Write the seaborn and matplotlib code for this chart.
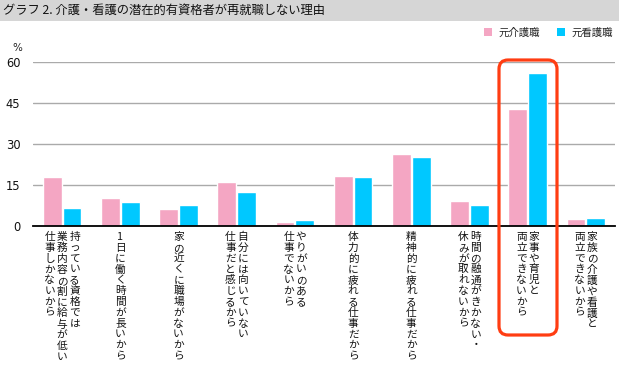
import matplotlib
matplotlib.use("Agg")
import matplotlib.pyplot as plt
import matplotlib.transforms as mtransforms
from matplotlib.patches import FancyBboxPatch, Patch
import seaborn as sns
import pandas as pd

# ---- data ----
categories = [
    ["持っている資格では", "業務内容の割に給与が低い", "仕事しかないから"],
    ["1日に働く時間が長いから"],
    ["家の近くに職場がないから"],
    ["自分には向いていない", "仕事だと感じるから"],
    ["やりがいのある", "仕事でないから"],
    ["体力的に疲れる仕事だから"],
    ["精神的に疲れる仕事だから"],
    ["時間の融通がきかない・", "休みが取れないから"],
    ["家事や育児と", "両立できないから"],
    ["家族の介護や看護と", "両立できないから"],
]
series_names = ["元介護職", "元看護職"]
care_values = [18.0, 10.2, 6.2, 16.1, 1.5, 18.2, 26.3, 9.1, 42.7, 2.6]
nurse_values = [6.6, 8.8, 7.7, 12.4, 2.2, 17.9, 25.2, 7.7, 55.8, 3.0]
yticks = [0, 15, 30, 45, 60]
title = "グラフ 2. 介護・看護の潜在的有資格者が再就職しない理由"
highlight_index = 8

colors = ["#f4a6c3", "#00c8ff"]

sns.set_theme(style="white")
plt.rcParams["font.family"] = ["Noto Sans CJK JP", "DejaVu Sans"]

keys = [str(i) for i in range(len(categories))]
df = pd.DataFrame({
    "cat": keys * 2,
    "series": [series_names[0]] * len(keys) + [series_names[1]] * len(keys),
    "value": care_values + nurse_values,
})

W, H = 619, 375
fig = plt.figure(figsize=(W / 100, H / 100), dpi=100)
ax = fig.add_axes([33 / W, 1 - 226 / H, (615 - 33) / W, (226 - 61.7) / H])

sns.barplot(data=df, x="cat", y="value", hue="series", order=keys,
            hue_order=series_names, palette=colors, width=0.68, gap=0.05,
            saturation=1, legend=False, ax=ax, zorder=3)

ax.set_xlim(-0.5, len(keys) - 0.5)
ax.set_ylim(0, 60)
ax.set_yticks(yticks)
ax.set_yticklabels([str(v) for v in yticks], fontsize=8.3, family="DejaVu Sans",
                   color="#111111")
ax.tick_params(axis="y", length=0, pad=9)
ax.set_xticks([])
ax.set_xlabel("")
ax.set_ylabel("")
for s in ["left", "right", "top"]:
    ax.spines[s].set_visible(False)
ax.spines["bottom"].set_color("black")
ax.spines["bottom"].set_linewidth(1.3)
ax.spines["bottom"].set_zorder(5)
ax.yaxis.grid(True, color="#aaaaaa", linewidth=1.0, zorder=0)
ax.set_axisbelow(True)

# vertical category labels
blend = mtransforms.blended_transform_factory(ax.transData, ax.transAxes)
col_sp = 12.5  # px
for i, lines in enumerate(categories):
    n = len(lines)
    for j, line in enumerate(lines):
        dx = ((n - 1) / 2 - j) * col_sp
        tr = blend + mtransforms.ScaledTranslation(dx / 100, -6 / 100, fig.dpi_scale_trans)
        ax.text(i, 0, "\n".join(line), transform=tr, ha="center", va="top",
                fontsize=7.7, linespacing=1.1, color="#111111")

# title band
fig.patches.append(FancyBboxPatch((0, 1 - 21 / H), 1, 21 / H, boxstyle="square,pad=0",
                                  transform=fig.transFigure, facecolor="#d6d6d6",
                                  edgecolor="none", zorder=0))
fig.text(3 / W, 1 - 10.5 / H, title, ha="left", va="center", fontsize=8.85, color="#111111")

# percent label
fig.text(17 / W, 1 - 48 / H, "%", ha="center", va="center", fontsize=7.5,
         family="DejaVu Sans", color="#222222")

# legend
handles = [Patch(facecolor=c, edgecolor="none") for c in colors]
fig.legend(handles, series_names, loc="center right", bbox_to_anchor=(1 - 2 / W, 1 - 33 / H),
           ncol=2, frameon=False, fontsize=7.5, handlelength=0.8, handleheight=0.8,
           handletextpad=0.6, columnspacing=1.6, borderaxespad=0)

# highlight box
hl = FancyBboxPatch((4.99, (H - 335) / 100), 0.58, 2.75,
                    boxstyle="round,pad=0,rounding_size=0.09",
                    transform=fig.dpi_scale_trans, facecolor="none",
                    edgecolor="#ff3d12", linewidth=2.3, zorder=10, clip_on=False)
fig.patches.append(hl)

fig.savefig("out.png", dpi=100)
